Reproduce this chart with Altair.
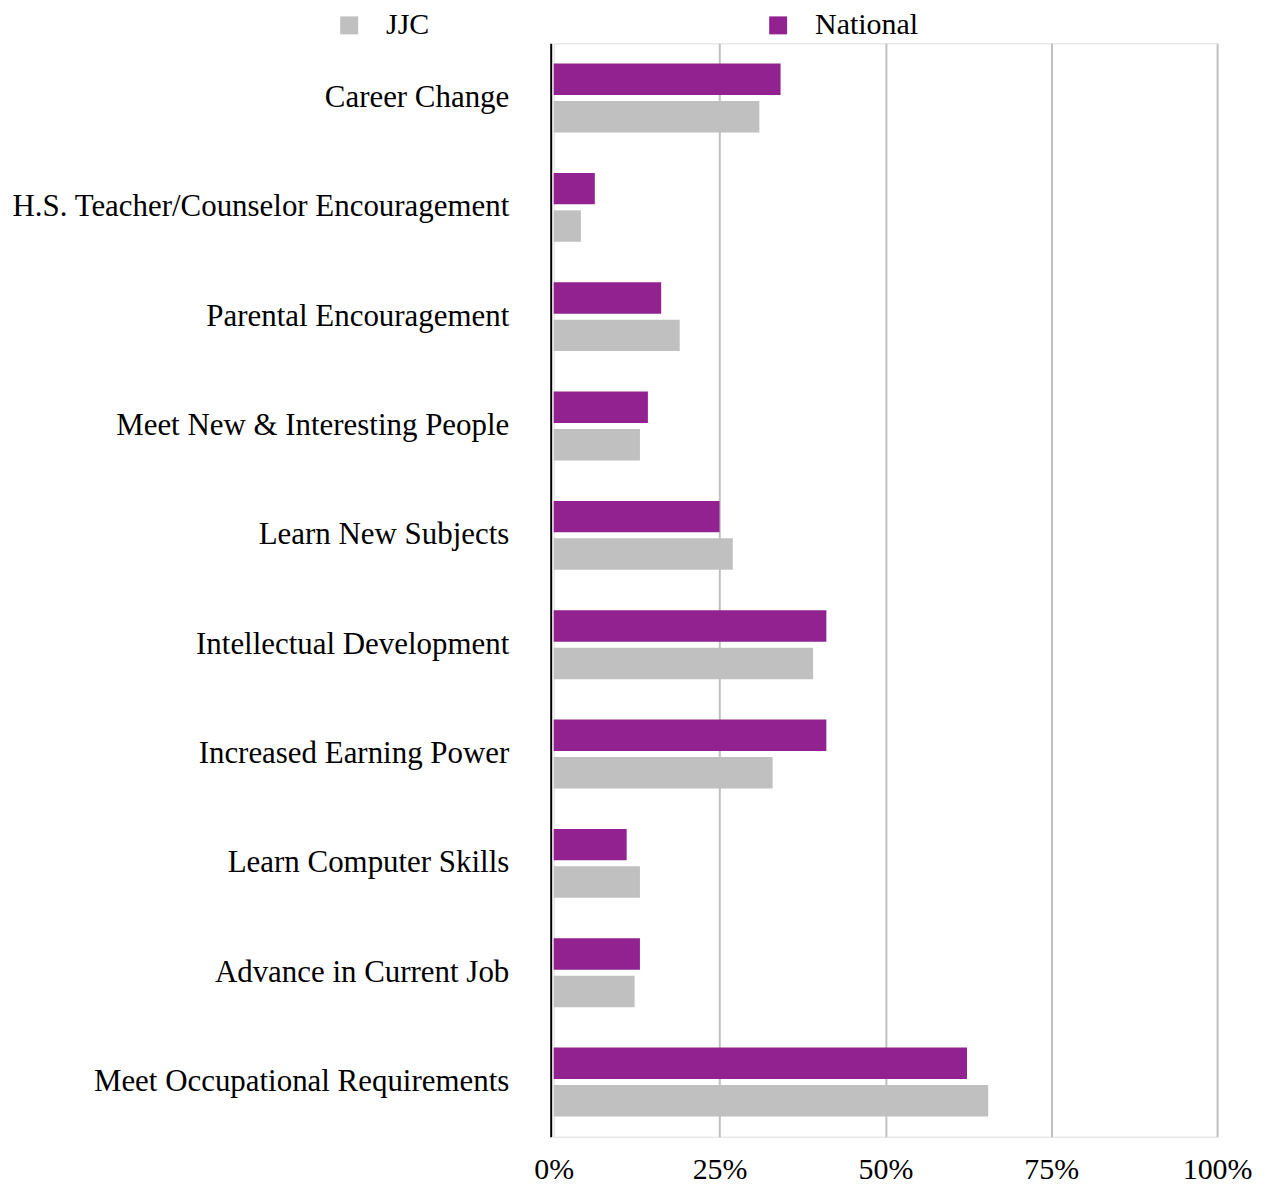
import altair as alt
import pandas as pd

categories = [
    "Career Change",
    "H.S. Teacher/Counselor Encouragement",
    "Parental Encouragement",
    "Meet New & Interesting People",
    "Learn New Subjects",
    "Intellectual Development",
    "Increased Earning Power",
    "Learn Computer Skills",
    "Advance in Current Job",
    "Meet Occupational Requirements",
]
national = [34.2, 6.2, 16.2, 14.2, 25.0, 41.1, 41.1, 11.0, 13.0, 62.3]
jjc = [31.0, 4.1, 19.0, 13.0, 27.0, 39.1, 33.0, 13.0, 12.2, 65.5]
series_names = ["JJC", "National"]
series_colors = ["#C0C0C0", "#92228F"]
tick_values = [0, 25, 50, 75, 100]

rows = []
for c, n, j in zip(categories, national, jjc):
    rows.append({"Category": c, "Series": "National", "Value": n})
    rows.append({"Category": c, "Series": "JJC", "Value": j})
df = pd.DataFrame(rows)

FONT = "Liberation Serif"

chart = (
    alt.Chart(df)
    .mark_bar()
    .encode(
        y=alt.Y(
            "Category:N",
            sort=categories,
            scale=alt.Scale(paddingInner=0.37, paddingOuter=0.185),
            axis=alt.Axis(
                title=None,
                labelFont=FONT,
                labelFontSize=31,
                labelColor="#000000",
                labelPadding=42,
                labelLimit=700,
                ticks=False,
                domain=True,
                domainColor="#000000",
                domainWidth=2,
                offset=3,
                grid=False,
            ),
        ),
        yOffset=alt.YOffset(
            "Series:N",
            sort=["National", "JJC"],
            scale=alt.Scale(paddingInner=0.16, paddingOuter=0),
        ),
        x=alt.X(
            "Value:Q",
            scale=alt.Scale(domain=[0, 100], nice=False, zero=True),
            axis=alt.Axis(
                title=None,
                values=tick_values,
                labelExpr="datum.value + '%'",
                labelFont=FONT,
                labelFontSize=30,
                labelColor="#000000",
                labelPadding=18,
                ticks=False,
                domain=False,
                grid=True,
                gridColor="#C0C0C0",
                gridWidth=2,
                gridOpacity={"condition": {"test": "datum.value === 0", "value": 0}, "value": 1},
                labelFlush=False,
            ),
        ),
        color=alt.Color(
            "Series:N",
            scale=alt.Scale(domain=series_names, range=series_colors),
            legend=alt.Legend(
                title=None,
                orient="none",
                legendX=-220,
                legendY=-33,
                direction="horizontal",
                symbolType="square",
                symbolSize=324,
                symbolStrokeWidth=0,
                labelFont=FONT,
                labelFontSize=30,
                labelColor="#000000",
                labelOffset=22,
                columnPadding=334,
                padding=0,
            ),
        ),
    )
    .properties(
        width=665,
        height=1096,
        autosize=alt.AutoSizeParams(type="none"),
        padding={"left": 547, "top": 34, "right": 40, "bottom": 50},
    )
    .configure_view(stroke="transparent", strokeWidth=0)
    .configure(background="#FFFFFF")
)

chart.save("out.html", embed_options={"renderer": "svg", "actions": False})
